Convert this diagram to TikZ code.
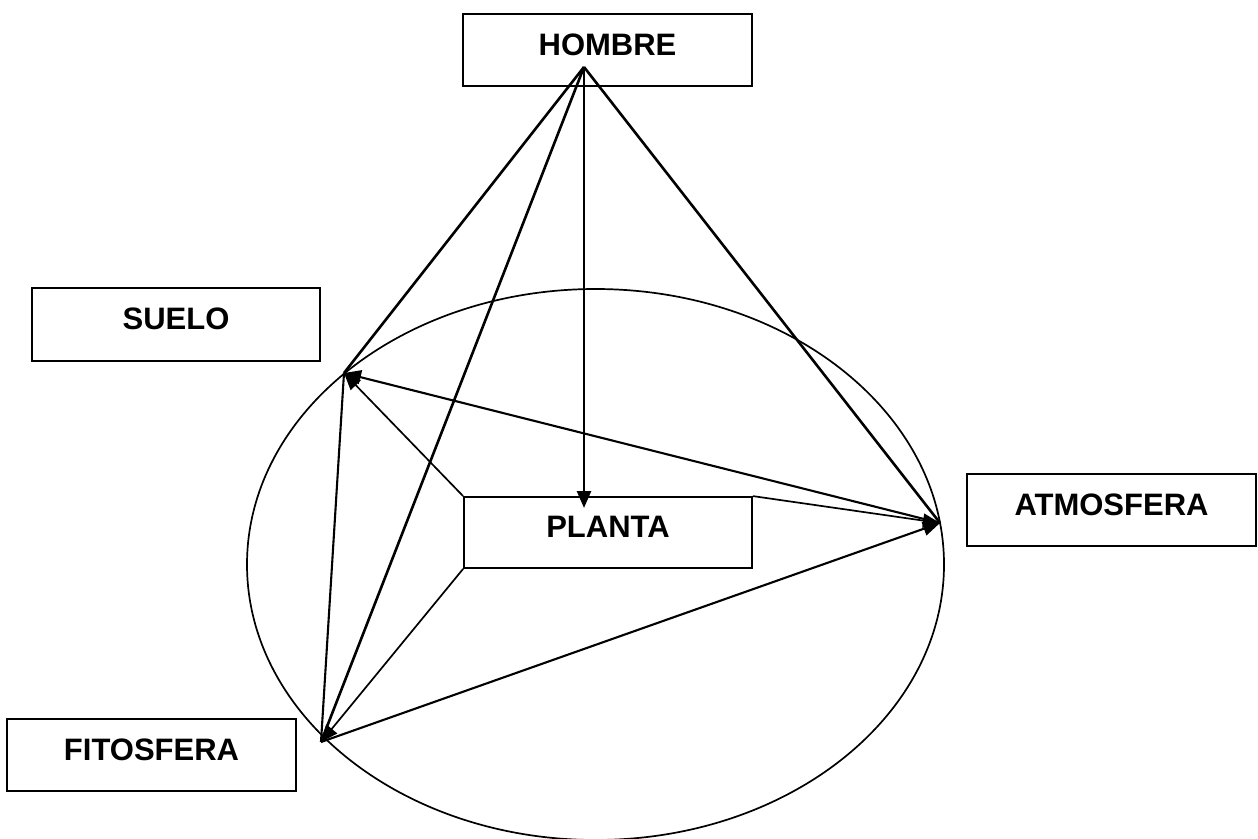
\documentclass[tikz,border=0pt]{standalone}
\usepackage{fontspec}
\setmainfont{Liberation Sans}
\usetikzlibrary{arrows.meta}
\tikzset{
  box/.style={draw, line width=1.8pt, rectangle, minimum width=288pt, minimum height=72pt,
    inner sep=0pt, text height=22pt, text depth=12pt,
    font=\fontsize{31}{36}\selectfont\bfseries},
  heavy/.style={line width=2.6pt},
  mid/.style={line width=2.1pt},
  thin/.style={line width=1.7pt},
  tip/.style={-{Triangle[length=17pt,width=14pt]}}
}
\begin{document}
\begin{tikzpicture}[x=1pt,y=-1pt]
\useasboundingbox (0,0) rectangle (1258,838);
% ellipse
\draw[thin] (595.5,564.5) ellipse [x radius=348.5pt, y radius=275.5pt];
% boxes
\node[box, minimum width=289pt] (hombre) at (607.5,50) {HOMBRE};
\node[box, minimum height=73pt] (suelo) at (176,324.5) {SUELO};
\node[box, minimum width=289pt] (atmos) at (1111.5,510) {ATMOSFERA};
\node[box, minimum width=289pt] (fito) at (151.5,755) {FITOSFERA};
\node[box, minimum height=71pt] (planta) at (608,532.5) {PLANTA};
% key points
\coordinate (H) at (584,67);
\coordinate (S) at (344,373);
\coordinate (A) at (940,523);
\coordinate (F) at (321,742);
\coordinate (Ptip) at (584,508);
% connectors from HOMBRE
\draw[heavy] (H) -- (S);
\draw[heavy] (H) -- (F);
\draw[heavy] (H) -- (A);
\draw[heavy, tip] (H) -- (Ptip);
% triangle between S, A, F
\draw[mid, tip] (A) -- (S);
\draw[mid] (S) -- (F);
\draw[mid, tip] (F) -- (A);
% from PLANTA corners
\draw[thin, tip] (planta.north west) -- (S);
\draw[thin, tip] (planta.north east) -- (A);
\draw[thin, tip] (planta.south west) -- (F);
\end{tikzpicture}
\end{document}
